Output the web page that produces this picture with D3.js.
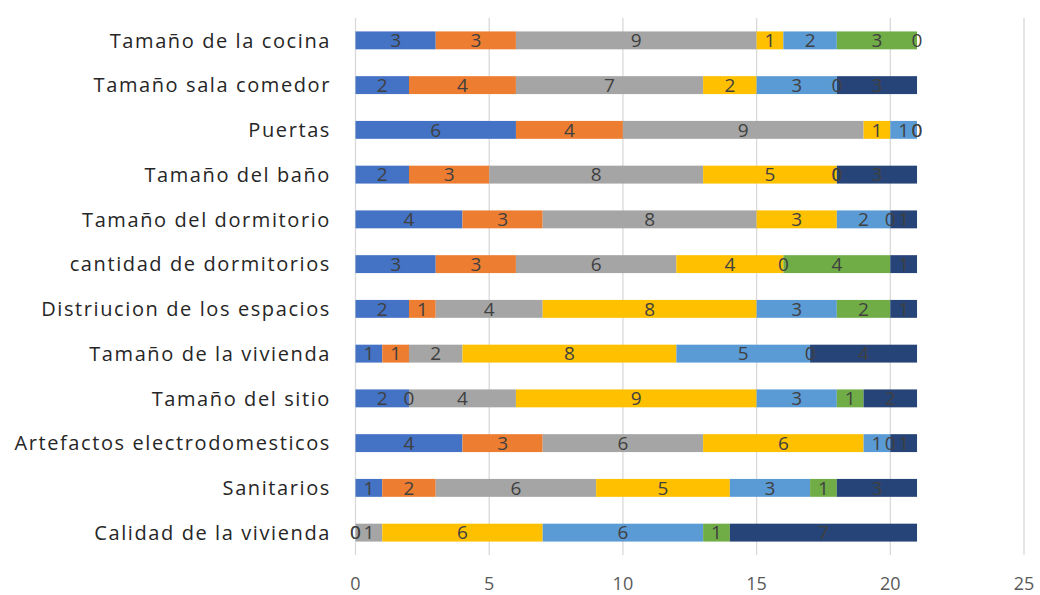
<!DOCTYPE html>
<html>
<head>
<meta charset="utf-8">
<script src="https://cdn.jsdelivr.net/npm/d3@7"></script>
<style>
  body { margin: 0; background: #fff; }
  svg { display: block; font-family: "Open Sans", "Noto Sans", sans-serif; }
</style>
</head>
<body>
<svg id="chart"></svg>
<script>
// categories, top to bottom
var categories = [
  "Tamaño de la cocina",
  "Tamaño sala comedor",
  "Puertas",
  "Tamaño del baño",
  "Tamaño del dormitorio",
  "cantidad de dormitorios",
  "Distriucion de los espacios",
  "Tamaño de la vivienda",
  "Tamaño del sitio",
  "Artefactos electrodomesticos",
  "Sanitarios",
  "Calidad de la vivienda"
];

// one array per series, same order as categories
var serie1 = [3, 2, 6, 2, 4, 3, 2, 1, 2, 4, 1, 0];
var serie2 = [3, 4, 4, 3, 3, 3, 1, 1, 0, 3, 2, 0];
var serie3 = [9, 7, 9, 8, 8, 6, 4, 2, 4, 6, 6, 1];
var serie4 = [1, 2, 1, 5, 3, 4, 8, 8, 9, 6, 5, 6];
var serie5 = [2, 3, 1, 0, 2, 0, 3, 5, 3, 1, 3, 6];
var serie6 = [3, 0, 0, 0, 0, 4, 2, 0, 1, 0, 1, 1];
var serie7 = [0, 3, 0, 3, 1, 1, 1, 4, 2, 1, 3, 7];

var seriesValues = [serie1, serie2, serie3, serie4, serie5, serie6, serie7];
var seriesColors = ["#4472C4", "#ED7D31", "#A5A5A5", "#FFC000", "#5B9BD5", "#70AD47", "#264478"];
var xTicks = [0, 5, 10, 15, 20, 25];

var w = 1040, h = 595;
var xrange = [355.5, 1024];
var yrange = [18, 555];

var svg = d3.select("#chart").attr("width", w).attr("height", h);

var xscale = d3.scaleLinear().domain([0, 25]).range(xrange);
var yscale = d3.scaleBand().domain(categories).range(yrange)
  .paddingInner(0.6).paddingOuter(0.3);

// build stacked table
var table = categories.map(function(c, i){
  var row = { cat: c };
  seriesValues.forEach(function(s, k){ row["s" + k] = s[i]; });
  return row;
});
var keys = seriesValues.map(function(s, k){ return "s" + k; });
var stacked = d3.stack().keys(keys)(table);

// vertical grid
svg.append("g").selectAll("line.grid")
  .data(xTicks)
  .enter().append("line")
    .attr("class", "grid")
    .attr("x1", function(d){ return xscale(d); })
    .attr("x2", function(d){ return xscale(d); })
    .attr("y1", yrange[0])
    .attr("y2", yrange[1])
    .attr("stroke", "#d9d9d9")
    .attr("stroke-width", 1.3);

// bars
var layers = svg.append("g").selectAll("g.layer")
  .data(stacked)
  .enter().append("g")
    .attr("class", "layer")
    .attr("fill", function(d, k){ return seriesColors[k]; });

layers.selectAll("rect")
  .data(function(d){ return d; })
  .enter().append("rect")
    .attr("x", function(d){ return xscale(d[0]); })
    .attr("width", function(d){ return xscale(d[1]) - xscale(d[0]); })
    .attr("y", function(d){ return yscale(d.data.cat); })
    .attr("height", yscale.bandwidth());

// data labels
var labels = svg.append("g");
stacked.forEach(function(layer){
  labels.selectAll(null)
    .data(layer)
    .enter().append("text")
      .attr("x", function(d){ return xscale((d[0] + d[1]) / 2); })
      .attr("y", function(d){ return yscale(d.data.cat) + yscale.bandwidth() / 2; })
      .attr("dy", "0.36em")
      .attr("text-anchor", "middle")
      .attr("fill", "#404040")
      .style("font-size", "19px")
      .text(function(d){ return d[1] - d[0]; });
});

// category labels
svg.append("g").selectAll("text.y-axis-tick")
  .data(categories)
  .enter().append("text")
    .attr("class", "y-axis-tick")
    .attr("x", 331)
    .attr("y", function(d){ return yscale(d) + yscale.bandwidth() / 2; })
    .attr("dy", "0.36em")
    .attr("text-anchor", "end")
    .attr("fill", "#262626")
    .style("font-size", "20px")
    .style("letter-spacing", "1.6px")
    .text(function(d){ return d; });

// x tick labels
svg.append("g").selectAll("text.x-axis-tick")
  .data(xTicks)
  .enter().append("text")
    .attr("class", "x-axis-tick")
    .attr("x", function(d){ return xscale(d); })
    .attr("y", 584)
    .attr("dy", "0.36em")
    .attr("text-anchor", "middle")
    .attr("fill", "#595959")
    .style("font-size", "18px")
    .text(function(d){ return d; });
</script>
</body>
</html>
